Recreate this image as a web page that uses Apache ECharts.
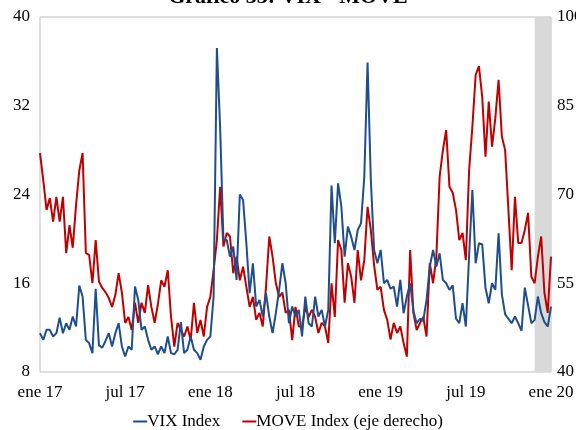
<!DOCTYPE html>
<html>
<head>
<meta charset="utf-8">
<script src="https://cdn.jsdelivr.net/npm/echarts@6/dist/echarts.min.js"></script>
<style>
html,body{margin:0;padding:0;background:#fff;}
#chart{width:576px;height:430px;}
</style>
</head>
<body>
<div id="chart"></div>
<script>
// Weekly observations, Jan 2017 - Jan 2020
const vix = [
11.5,10.9,11.8,11.8,11.2,11.5,12.9,11.5,12.4,11.8,
13.0,12.1,15.8,14.8,10.9,10.6,9.7,15.5,10.4,10.2,
10.8,11.5,10.3,11.5,12.4,10.3,9.4,10.3,10.0,15.7,
14.5,11.8,12.1,10.9,10.0,10.3,9.6,10.3,9.7,11.2,
9.7,9.6,10.0,12.5,9.7,10.0,11.2,10.0,9.7,9.1,
10.3,10.9,11.2,14.8,37.2,30.0,19.9,19.9,18.4,19.3,
16.3,24.0,23.5,19.6,15.1,17.8,13.9,14.5,13.0,15.1,
13.0,11.5,13.3,15.4,17.8,16.0,12.4,13.9,13.0,13.6,
11.2,14.8,12.4,12.1,14.8,13.0,13.6,12.1,13.6,24.8,
19.6,25.0,22.9,18.4,21.1,20.2,19.0,20.8,21.4,25.6,
35.9,25.3,19.0,17.8,19.0,16.0,16.3,15.5,15.7,13.9,
16.3,13.3,14.8,16.0,13.5,12.4,12.8,12.6,14.5,17.5,
19.0,17.5,18.7,16.3,16.0,15.4,15.8,12.8,12.4,14.2,
12.1,18.5,24.4,17.8,19.6,19.5,15.6,14.2,16.0,15.4,
20.5,15.0,13.2,12.8,12.4,13.0,12.4,11.7,15.6,14.0,
12.4,12.7,14.8,13.3,12.5,12.1,13.9
];
const move = [
77.0,72.4,67.4,69.4,65.4,69.6,65.4,69.6,60.1,64.8,
61.0,68.2,74.1,77.0,60.1,59.8,55.0,62.3,55.3,54.2,
53.5,52.5,51.0,53.0,56.7,53.4,48.3,49.3,47.1,51.7,
48.3,51.7,50.0,54.7,51.0,48.3,51.5,55.5,54.4,57.2,
49.3,44.3,48.3,47.1,46.0,47.7,45.4,51.7,46.6,48.8,
46.0,51.0,52.7,57.2,62.3,71.3,61.2,63.5,62.9,56.7,
59.5,55.5,57.8,54.4,51.0,52.7,48.8,50.0,47.7,54.4,
62.9,59.5,55.0,52.7,53.4,50.0,50.5,45.4,51.0,47.7,
47.7,51.0,49.3,50.5,49.3,46.6,48.3,47.7,44.9,55.0,
49.3,62.3,60.6,51.7,58.4,56.1,51.7,60.6,55.5,58.9,
67.9,64.0,58.0,53.9,54.4,50.5,48.8,45.5,48.3,46.6,
47.7,44.9,42.6,60.6,50.0,47.1,48.3,49.3,46.0,58.4,
55.0,59.5,73.0,77.5,80.9,71.3,70.3,67.4,62.3,63.5,
58.9,74.1,81.5,90.2,91.7,86.5,76.4,85.7,78.1,82.9,
89.4,79.8,77.5,67.4,57.2,69.6,61.8,61.8,64.0,66.9,
56.1,55.0,59.5,62.9,53.4,50.0,59.5
];
const tickIndex = [0, 26, 52, 78, 104, 130, 156];
const tickLabels = ['ene 17', 'jul 17', 'ene 18', 'jul 18', 'ene 19', 'jul 19', 'ene 20'];
const leftTicks = [8, 40, 8];     // min, max, interval
const rightTicks = [40, 100, 15]; // min, max, interval
const shadeFrom = 151, shadeTo = 156;

const categories = [];
const start = Date.UTC(2017, 0, 1);
for (let i = 0; i < vix.length; i++) {
  const d = new Date(start + i * 7 * 86400000);
  categories.push(d.toISOString().slice(0, 10));
}
const labelOf = {};
tickIndex.forEach((k, j) => { labelOf[k] = tickLabels[j]; });

const font = "'Liberation Serif', 'Times New Roman', serif";
const fs = 17;
const chart = echarts.init(document.getElementById('chart'), null, {renderer: 'canvas'});
chart.setOption({
  animation: false,
  backgroundColor: '#ffffff',
  title: {
    text: 'Gráfico 33: VIX - MOVE',
    left: 'center',
    top: -14,
    padding: 0,
    textStyle: {fontFamily: font, fontSize: 22, fontWeight: 'bold', color: '#000'}
  },
  grid: {
    left: 40, right: 25, top: 17, bottom: 58,
    containLabel: false,
    outerBoundsMode: 'none',
    show: true, borderColor: '#BFBFBF', borderWidth: 1, backgroundColor: 'transparent'
  },
  legend: {
    top: 413,
    left: 'center',
    padding: 0,
    icon: 'rect',
    itemWidth: 14,
    itemHeight: 2,
    itemGap: 22,
    textStyle: {fontFamily: font, fontSize: fs, color: '#000', padding: [0, 0, 0, -5]},
    data: ['VIX Index', 'MOVE Index (eje derecho)']
  },
  xAxis: {
    type: 'category',
    data: categories,
    boundaryGap: false,
    axisLine: {show: false},
    axisTick: {show: false},
    splitLine: {show: false},
    axisLabel: {
      interval: (idx) => labelOf[idx] !== undefined,
      formatter: (val, idx) => labelOf[idx] || '',
      fontFamily: font, fontSize: fs, color: '#000', margin: 12
    }
  },
  yAxis: [
    {
      type: 'value', min: leftTicks[0], max: leftTicks[1], interval: leftTicks[2],
      axisLine: {show: false}, axisTick: {show: false}, splitLine: {show: false},
      axisLabel: {fontFamily: font, fontSize: fs, color: '#000', margin: 10}
    },
    {
      type: 'value', min: rightTicks[0], max: rightTicks[1], interval: rightTicks[2],
      position: 'right',
      axisLine: {show: false}, axisTick: {show: false}, splitLine: {show: false},
      axisLabel: {fontFamily: font, fontSize: fs, color: '#000', margin: 6}
    }
  ],
  series: [
    {
      name: 'VIX Index', type: 'line', data: vix, yAxisIndex: 0,
      showSymbol: false, symbol: 'none',
      lineStyle: {color: '#1F4E8C', width: 2},
      itemStyle: {color: '#1F4E8C'},
      z: 3,
      markArea: {
        silent: true,
        itemStyle: {color: '#D9D9D9'},
        data: [[{xAxis: categories[shadeFrom]}, {xAxis: categories[shadeTo]}]]
      }
    },
    {
      name: 'MOVE Index (eje derecho)', type: 'line', data: move, yAxisIndex: 1,
      showSymbol: false, symbol: 'none',
      lineStyle: {color: '#C00000', width: 2},
      itemStyle: {color: '#C00000'},
      z: 2
    }
  ]
});
</script>
</body>
</html>
